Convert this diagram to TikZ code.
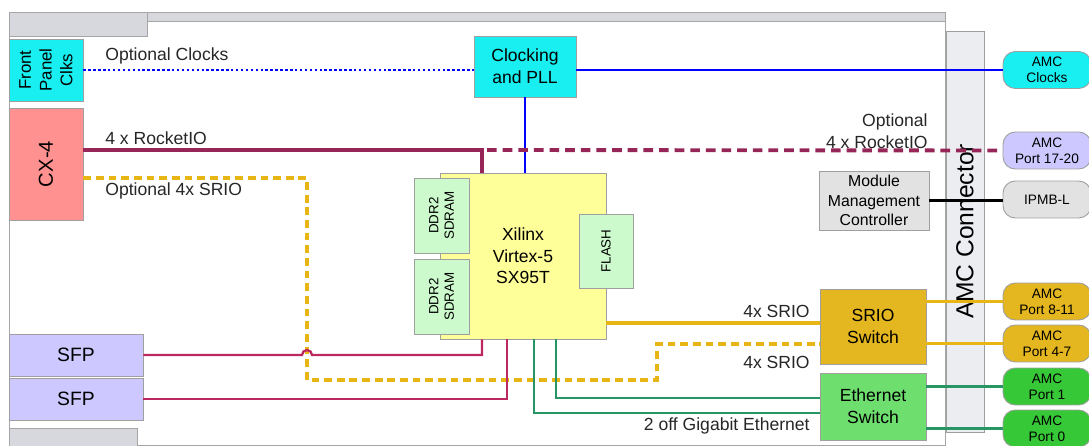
\documentclass[tikz,border=0pt]{standalone}
\usepackage{fontspec}
\setmainfont{Liberation Sans}
\usepackage{tikz}

\definecolor{clkcyan}{RGB}{25,238,240}
\definecolor{cxred}{RGB}{255,145,145}
\definecolor{sfpblue}{RGB}{205,200,255}
\definecolor{fpgayel}{RGB}{255,255,153}
\definecolor{memgreen}{RGB}{204,250,204}
\definecolor{srgold}{RGB}{228,182,32}
\definecolor{ethgreen}{RGB}{110,222,110}
\definecolor{portgreen}{RGB}{55,200,55}
\definecolor{mmcgray}{RGB}{226,226,226}
\definecolor{bargray}{RGB}{214,216,222}
\definecolor{conngray}{RGB}{236,237,241}
\definecolor{riored}{RGB}{150,38,88}
\definecolor{sfpred}{RGB}{188,40,95}
\definecolor{srline}{RGB}{232,182,20}
\definecolor{ethline}{RGB}{40,150,100}

\begin{document}
\begin{tikzpicture}[x=0.02cm,y=-0.02cm,
    blk/.style={draw=gray!75,line width=0.5pt,inner sep=1pt,align=center,
      font=\fontsize{10}{12.3}\selectfont},
    small/.style={font=\fontsize{7.6}{8.8}\selectfont},
    port/.style={draw=gray!75,line width=0.5pt,rounded corners=7pt,align=center,
      minimum width=1.76cm,minimum height=0.74cm,inner sep=0pt,
      font=\fontsize{7.8}{9.2}\selectfont},
    lbl/.style={font=\fontsize{10}{12.3}\selectfont,inner sep=0pt,text=black!85},
    bar/.style={fill=bargray,draw=gray!70,line width=0.5pt},
    clkline/.style={blue,line width=1.3pt},
    rioline/.style={riored,line width=2.2pt},
    sfpline/.style={sfpred,line width=1.3pt},
    goldline/.style={srline,line width=1.9pt},
    gethline/.style={ethline,line width=1.4pt}]
  \useasboundingbox (0,0) rectangle (1089,446);

  % card outline
  \draw[gray!70,line width=0.5pt] (9,21) rectangle (945,445);
  \draw[bar] (9,12) rectangle (147,36);
  \draw[bar] (147,12) rectangle (945,21);
  \draw[bar] (9,428) rectangle (137,447);

  % AMC connector
  \node[draw=gray!75,fill=conngray,line width=0.5pt,rotate=90,minimum width=8.02cm,
    minimum height=0.76cm,font=\fontsize{14}{16}\selectfont] (conn) at (965,231.5) {AMC Connector};

  % blocks
  \node[blk,fill=clkcyan,rotate=90,minimum width=1.24cm,minimum height=1.48cm,
    font=\fontsize{9.6}{11.8}\selectfont] (fpc) at (46,70) {Front\\Panel\\Clks};
  \node[blk,fill=cxred,rotate=90,minimum width=2.24cm,minimum height=1.48cm,
    font=\fontsize{11.5}{13}\selectfont] (cx4) at (46,164) {CX-4};
  \node[blk,fill=clkcyan,minimum width=2.04cm,minimum height=1.22cm] (pll) at (525,66.5) {Clocking\\and PLL};
  \node[blk,fill=fpgayel,minimum width=3.32cm,minimum height=3.32cm] (fpga) at (523,256) {Xilinx\\Virtex-5\\SX95T};
  \node[blk,small,fill=memgreen,rotate=90,minimum width=1.5cm,minimum height=1.1cm] (ddra) at (441.5,215.5) {DDR2\\SDRAM};
  \node[blk,small,fill=memgreen,rotate=90,minimum width=1.5cm,minimum height=1.1cm] (ddrb) at (441.5,296.5) {DDR2\\SDRAM};
  \node[blk,small,fill=memgreen,rotate=90,minimum width=1.48cm,minimum height=1.08cm] (flash) at (606,251) {FLASH};
  \node[blk,fill=mmcgray,minimum width=2.2cm,minimum height=1.18cm,
    font=\fontsize{9}{11.2}\selectfont] (mmc) at (874,200.5) {Module\\Management\\Controller};
  \node[blk,fill=srgold,minimum width=2.12cm,minimum height=1.5cm] (srio) at (873,326.5) {SRIO\\Switch};
  \node[blk,fill=ethgreen,minimum width=2.12cm,minimum height=1.34cm] (eth) at (873,406.5) {Ethernet\\Switch};
  \node[blk,fill=sfpblue,minimum width=2.68cm,minimum height=0.84cm,
    font=\fontsize{11}{13}\selectfont] (sfpa) at (76,355) {SFP};
  \node[blk,fill=sfpblue,minimum width=2.68cm,minimum height=0.84cm,
    font=\fontsize{11}{13}\selectfont] (sfpb) at (76,399) {SFP};

  % AMC ports
  \node[port,fill=clkcyan] (amcclk) at (1047,70) {AMC\\Clocks};
  \node[port,fill=sfpblue] (amcrio) at (1047,150.5) {AMC\\Port 17-20};
  \node[port,fill=mmcgray] (ipmb) at (1047,199.5) {IPMB-L};
  \node[port,fill=srgold] (amcb) at (1047,301.5) {AMC\\Port 8-11};
  \node[port,fill=srgold] (amca) at (1047,343.5) {AMC\\Port 4-7};
  \node[port,fill=portgreen] (amcone) at (1047,386.5) {AMC\\Port 1};
  \node[port,fill=portgreen] (amczero) at (1047,428.5) {AMC\\Port 0};

  % clocks
  \draw[clkline,dash pattern=on 1.4pt off 1.4pt] (fpc.south) -- (fpc.south -| pll.west);
  \draw[clkline] (amcclk.west -| pll.east) -- (amcclk.west);
  \draw[clkline] (pll.south) -- (pll.south |- fpga.north);

  % rocketio
  \coordinate (rj) at (482,150);
  \draw[rioline] (rj -| cx4.south) -- (rj) -- (rj |- fpga.north);
  \draw[rioline,dash pattern=on 5.5pt off 3.4pt] (rj) ++(5,0) -- (amcrio.west);

  % optional srio
  \coordinate (sa) at (307,178);
  \coordinate (sb) at (307,380);
  \coordinate (sc) at (657,344);
  \draw[goldline,line width=2.1pt,dash pattern=on 4.4pt off 2.8pt] (sa -| cx4.south) -- (sa) -- (sb) -- (sb -| sc) -- (sc) -- (sc -| srio.west);

  % srio
  \coordinate (sd) at (606,323);
  \draw[goldline] (sd) -- (sd -| srio.west);
  \draw[goldline] (amcb.west -| srio.east) -- (amcb.west);
  \draw[goldline] (amca.west -| srio.east) -- (amca.west);

  % sfp
  \coordinate (fa) at (482,355);
  \coordinate (fb) at (507,399);
  \draw[sfpline] (sfpa.east) -- (302,355) arc (180:360:5) -- (fa) -- (fa |- fpga.south);
  \draw[sfpline] (sfpb.east) -- (fb) -- (fb |- fpga.south);

  % ethernet
  \coordinate (ga) at (534,413);
  \coordinate (gb) at (556,398);
  \draw[gethline] (ga |- fpga.south) -- (ga) -- (ga -| eth.west);
  \draw[gethline] (gb |- fpga.south) -- (gb) -- (gb -| eth.west);
  \draw[gethline,line width=1.7pt] (amcone.west -| eth.east) -- (amcone.west);
  \draw[gethline,line width=1.7pt] (amczero.west -| eth.east) -- (amczero.west);

  % ipmb
  \draw[line width=2pt] (mmc.east) -- (mmc.east -| ipmb.west);

  % labels
  \node[lbl,anchor=west] (lclk) at (105,56) {Optional Clocks};
  \node[lbl,anchor=west] (lrio) at (105,138) {4 x RocketIO};
  \node[lbl,anchor=west] (lsrio) at (105,191) {Optional 4x SRIO};
  \node[lbl,anchor=east,align=right] (lorio) at (928,131) {Optional\\4 x RocketIO};
  \node[lbl,anchor=east] (lsa) at (810,311) {4x SRIO};
  \node[lbl,anchor=east] (lsb) at (810,362) {4x SRIO};
  \node[lbl,anchor=east] (lgbe) at (810,426) {2 off Gigabit Ethernet};
\end{tikzpicture}
\end{document}
